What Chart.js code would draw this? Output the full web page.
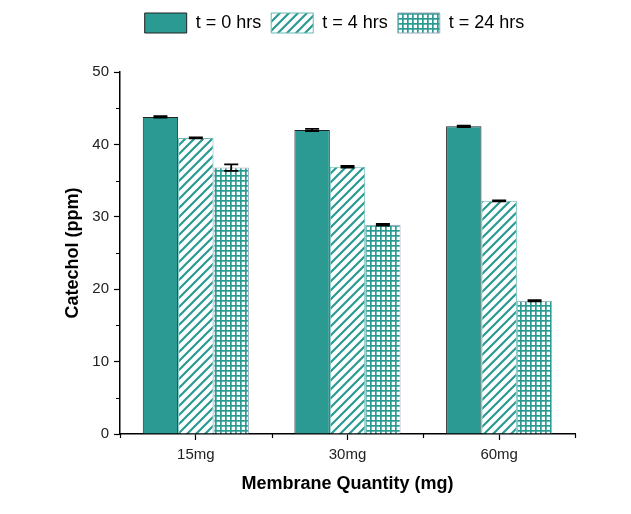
<!DOCTYPE html>
<html>
<head>
<meta charset="utf-8">
<script src="https://cdn.jsdelivr.net/npm/chart.js@4"></script>
<style>
  html, body { margin: 0; padding: 0; background: #fff; }
  #wrap { width: 631px; height: 514px; }
</style>
</head>
<body>
<div id="wrap"><canvas id="barChart" width="631" height="514"></canvas></div>
<script>
// data
const categories = ['15mg', '30mg', '60mg'];
const seriesLabels = ['t = 0 hrs', 't = 4 hrs', 't = 24 hrs'];
const t0Values = [43.8, 42.0, 42.5];
const t4Values = [40.9, 36.9, 32.2];
const t24Values = [36.8, 28.9, 18.4];
const t0Errors = [0.1, 0.15, 0.1];
const t4Errors = [0.05, 0.12, 0.08];
const t24Errors = [0.45, 0.12, 0.08];
const yTicks = [0, 10, 20, 30, 40, 50];
const yMinorTicks = [5, 15, 25, 35, 45];

const TEAL = '#2a9a92';

function makeHatch() {
    const c = document.createElement('canvas');
    c.width = 9; c.height = 9;
    const g = c.getContext('2d');
    g.fillStyle = '#fff';
    g.fillRect(0, 0, 9, 9);
    g.strokeStyle = TEAL;
    g.lineWidth = 2.2;
    g.beginPath();
    g.moveTo(-2, 11); g.lineTo(11, -2);
    g.moveTo(-11, 11); g.lineTo(2, -2);
    g.moveTo(7, 11); g.lineTo(20, -2);
    g.stroke();
    return g.createPattern(c, 'repeat');
}

function makeGrid() {
    const c = document.createElement('canvas');
    c.width = 5; c.height = 5;
    const g = c.getContext('2d');
    g.fillStyle = '#fff';
    g.fillRect(0, 0, 5, 5);
    g.fillStyle = TEAL;
    g.fillRect(0, 0, 5, 1.7);
    g.fillRect(0, 0, 1.7, 5);
    return g.createPattern(c, 'repeat');
}

// legend: fixed height (plot top at y=72) and nudged right/down
const legendTweak = {
    id: 'legendTweak',
    beforeLayout(chart) {
        const lg = chart.legend;
        if (!lg || lg._tweaked) return;
        lg._tweaked = true;
        const origFit = lg.fit;
        lg.fit = function () {
            origFit.call(this);
            this.height = 72;
        };
        const origDraw = lg.draw;
        lg.draw = function () {
            const c = this.ctx;
            c.save();
            c.translate(47, 3);
            origDraw.call(this);
            c.restore();
        };
    }
};

// error bars + minor ticks
const extrasPlugin = {
    id: 'extras',
    afterDatasetsDraw(chart) {
        const ctx = chart.ctx;
        const errs = [t0Errors, t4Errors, t24Errors];
        ctx.save();
        ctx.strokeStyle = '#000';
        ctx.lineWidth = 1.8;
        chart.data.datasets.forEach((ds, i) => {
            const meta = chart.getDatasetMeta(i);
            meta.data.forEach((bar, j) => {
                const v = ds.data[j];
                const e = errs[i][j];
                const yTop = chart.scales.y.getPixelForValue(v + e);
                const yBot = chart.scales.y.getPixelForValue(v - e);
                const x = bar.x;
                ctx.beginPath();
                ctx.moveTo(x, yTop); ctx.lineTo(x, yBot);
                ctx.moveTo(x - 7, yTop); ctx.lineTo(x + 7, yTop);
                ctx.moveTo(x - 7, yBot); ctx.lineTo(x + 7, yBot);
                ctx.stroke();
            });
        });
        ctx.restore();
    },
    afterDraw(chart) {
        const ctx = chart.ctx;
        const y = chart.scales.y, x = chart.scales.x;
        const area = chart.chartArea;
        ctx.save();
        ctx.strokeStyle = '#000';
        ctx.lineWidth = 1.2;
        ctx.beginPath();
        yMinorTicks.forEach(v => {
            const py = Math.round(y.getPixelForValue(v)) + 0.5;
            ctx.moveTo(area.left, py); ctx.lineTo(area.left - 4, py);
        });
        for (let k = 0; k <= categories.length; k++) {
            const px = Math.round(x.getPixelForValue(k - 0.5)) + 0.5;
            ctx.moveTo(px, area.bottom); ctx.lineTo(px, area.bottom + 4);
        }
        ctx.stroke();
        ctx.restore();
    }
};

const ctx = document.getElementById('barChart').getContext('2d');
new Chart(ctx, {
    type: 'bar',
    data: {
        labels: categories,
        datasets: [{
            label: seriesLabels[0],
            data: t0Values,
            backgroundColor: TEAL,
            borderColor: '#222',
            borderWidth: 1
        }, {
            label: seriesLabels[1],
            data: t4Values,
            backgroundColor: makeHatch(),
            borderColor: '#6bbcb6',
            borderWidth: 1
        }, {
            label: seriesLabels[2],
            data: t24Values,
            backgroundColor: makeGrid(),
            borderColor: '#9ab',
            borderWidth: 1
        }]
    },
    options: {
        responsive: false,
        animation: false,
        devicePixelRatio: 1,
        layout: {
            padding: { left: 0, right: 56, top: 0, bottom: 0 }
        },
        datasets: {
            bar: {
                categoryPercentage: 0.7,
                barPercentage: 1.0
            }
        },
        plugins: {
            legend: {
                position: 'top',
                labels: {
                    color: '#000',
                    boxWidth: 42,
                    boxHeight: 20,
                    padding: 10,
                    font: { family: 'Liberation Sans', size: 18 }
                }
            },
            tooltip: { enabled: false }
        },
        scales: {
            x: {
                grid: {
                    offset: false,
                    drawOnChartArea: false,
                    color: '#000',
                    tickLength: 6,
                    tickWidth: 1.2
                },
                border: { color: '#000', width: 1.5 },
                ticks: {
                    color: '#222',
                    padding: 6,
                    font: { family: 'Liberation Sans', size: 15 }
                },
                title: {
                    display: true,
                    text: 'Membrane Quantity (mg)',
                    color: '#000',
                    padding: { top: 0, bottom: 19 },
                    font: { family: 'Liberation Sans', size: 18, weight: 'bold' }
                },
                afterFit(scale) { scale.height = 80; }
            },
            y: {
                min: 0,
                max: 50,
                afterBuildTicks(scale) {
                    scale.ticks = yTicks.map(v => ({ value: v }));
                },
                grid: {
                    drawOnChartArea: false,
                    color: '#000',
                    tickLength: 6,
                    tickWidth: 1.2
                },
                border: { color: '#000', width: 1.5 },
                ticks: {
                    color: '#222',
                    padding: 5,
                    font: { family: 'Liberation Sans', size: 15 }
                },
                title: {
                    display: true,
                    text: 'Catechol (ppm)',
                    color: '#000',
                    padding: { top: 62, bottom: 0 },
                    font: { family: 'Liberation Sans', size: 18, weight: 'bold' }
                },
                afterFit(scale) { scale.width = 120; }
            }
        }
    },
    plugins: [legendTweak, extrasPlugin]
});
</script>
</body>
</html>
